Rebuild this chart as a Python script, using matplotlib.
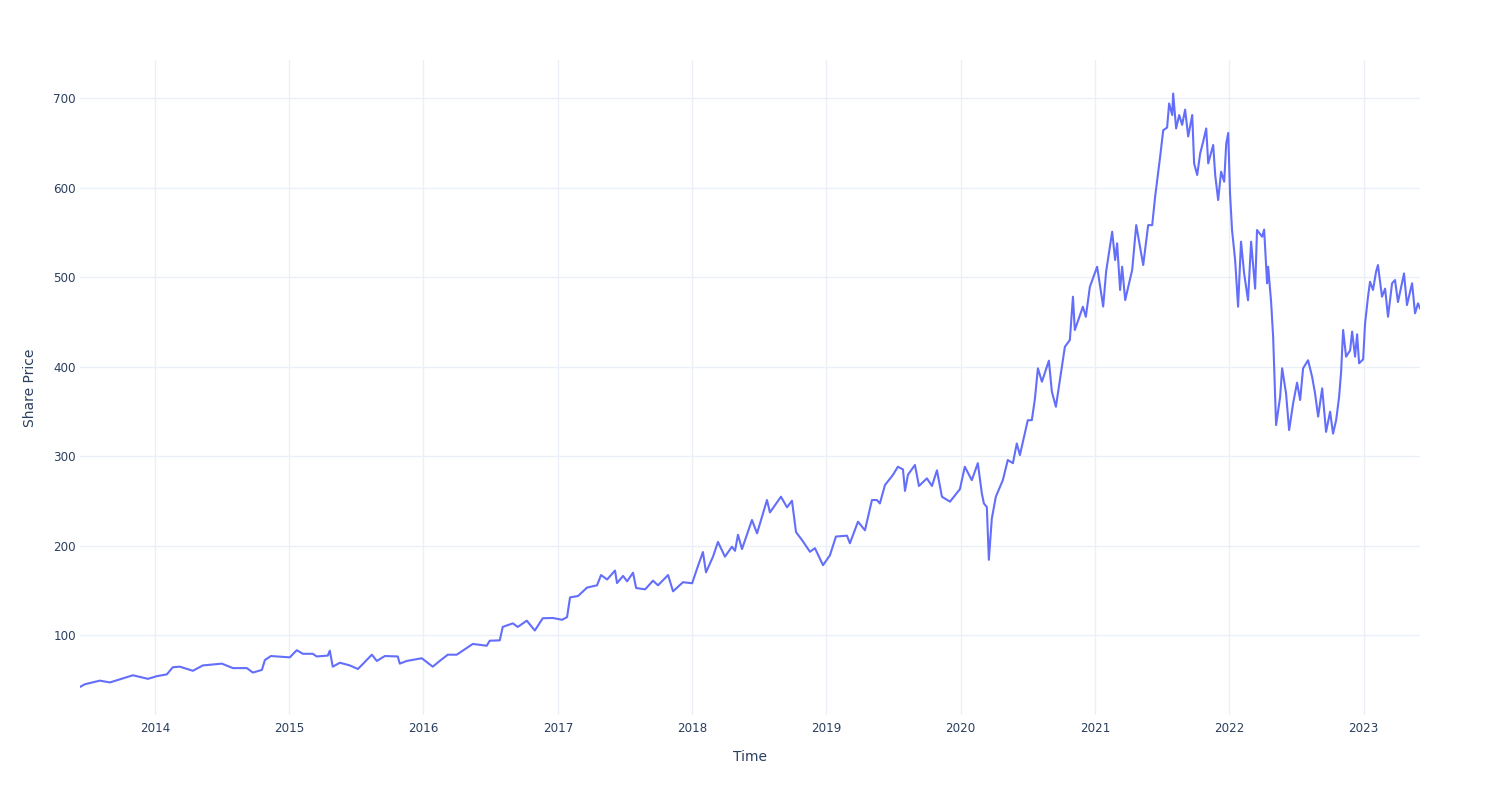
import numpy as np
import pandas as pd
import matplotlib
matplotlib.use('Agg')
import matplotlib.pyplot as plt
import matplotlib.dates as mdates

# time axis as fractional years, price
years = [
    2013.442, 2013.479, 2013.590, 2013.665, 2013.836, 2013.948, 2014.015, 2014.089, 2014.134, 2014.186,
    2014.283, 2014.357, 2014.499, 2014.581, 2014.685, 2014.730, 2014.797, 2014.819, 2014.864, 2015.005,
    2015.057, 2015.102, 2015.176, 2015.206, 2015.288, 2015.303, 2015.325, 2015.378, 2015.452, 2015.512,
    2015.549, 2015.616, 2015.653, 2015.713, 2015.809, 2015.824, 2015.876, 2015.988, 2016.070, 2016.122,
    2016.182, 2016.249, 2016.323, 2016.368, 2016.472, 2016.494, 2016.569, 2016.591, 2016.666, 2016.703,
    2016.770, 2016.830, 2016.889, 2016.964, 2017.031, 2017.068, 2017.090, 2017.150, 2017.217, 2017.291,
    2017.321, 2017.366, 2017.425, 2017.440, 2017.485, 2017.515, 2017.559, 2017.582, 2017.649, 2017.708,
    2017.745, 2017.820, 2017.857, 2017.931, 2017.999, 2018.036, 2018.080, 2018.103, 2018.155, 2018.192,
    2018.244, 2018.296, 2018.319, 2018.341, 2018.371, 2018.445, 2018.483, 2018.557, 2018.579, 2018.661,
    2018.706, 2018.743, 2018.773, 2018.818, 2018.877, 2018.914, 2018.974, 2019.026, 2019.071, 2019.153,
    2019.175, 2019.235, 2019.287, 2019.339, 2019.376, 2019.398, 2019.436, 2019.495, 2019.532, 2019.570,
    2019.585, 2019.607, 2019.659, 2019.689, 2019.748, 2019.786, 2019.823, 2019.860, 2019.920, 2019.994,
    2020.031, 2020.083, 2020.128, 2020.158, 2020.173, 2020.195, 2020.210, 2020.232, 2020.262, 2020.314,
    2020.351, 2020.389, 2020.418, 2020.441, 2020.500, 2020.530, 2020.553, 2020.575, 2020.605, 2020.657,
    2020.679, 2020.709, 2020.739, 2020.776, 2020.813, 2020.836, 2020.850, 2020.910, 2020.932, 2020.962,
    2021.014, 2021.059, 2021.081, 2021.126, 2021.148, 2021.163, 2021.185, 2021.200, 2021.223, 2021.275,
    2021.305, 2021.357, 2021.394, 2021.424, 2021.446, 2021.483, 2021.506, 2021.535, 2021.550, 2021.573,
    2021.580, 2021.602, 2021.625, 2021.647, 2021.669, 2021.692, 2021.722, 2021.736, 2021.759, 2021.781,
    2021.803, 2021.826, 2021.841, 2021.878, 2021.893, 2021.915, 2021.937, 2021.960, 2021.975, 2021.990,
    2022.004, 2022.019, 2022.042, 2022.064, 2022.086, 2022.109, 2022.138, 2022.161, 2022.191, 2022.205,
    2022.243, 2022.258, 2022.280, 2022.288, 2022.310, 2022.325, 2022.347, 2022.377, 2022.392, 2022.421,
    2022.444, 2022.474, 2022.503, 2022.526, 2022.548, 2022.585, 2022.615, 2022.637, 2022.660, 2022.690,
    2022.719, 2022.749, 2022.771, 2022.794, 2022.816, 2022.831, 2022.846, 2022.868, 2022.898, 2022.913,
    2022.935, 2022.950, 2022.965, 2022.995, 2023.010, 2023.032, 2023.047, 2023.069, 2023.092, 2023.106,
    2023.136, 2023.159, 2023.181, 2023.211, 2023.233, 2023.255, 2023.300, 2023.322, 2023.360, 2023.382,
    2023.404, 2023.419,
]

prices = [
    42, 45, 49, 47, 55, 51, 54, 56, 64, 64.6,
    60, 66, 68, 63, 63, 58, 61, 72, 76.5, 75,
    83, 79, 79, 76, 77, 82.5, 64.6, 69, 66, 62,
    67.6, 78, 71, 76.5, 76, 68, 71, 74, 64.6, 71,
    78, 78, 85.5, 90, 88, 93.6, 94, 109, 113, 109,
    116, 105, 118.7, 119, 117, 120, 142, 143.6, 153, 155.5,
    167, 162, 172, 158, 166, 160, 169.6, 152.5, 151, 160.7,
    155.5, 167, 148.8, 159, 157.8, 174, 192.7, 170, 187.5, 204,
    187.5, 198.7, 194, 212, 196, 228.5, 213.6, 250.8, 237, 254.5,
    242.7, 250, 215, 206, 193, 197, 178, 189, 210, 211,
    202.5, 226.6, 217, 250.8, 250.8, 247, 267.6, 278.8, 288, 285,
    261, 279, 290, 266.5, 275, 266.5, 284, 254.5, 249, 263,
    288, 273, 292, 258, 247, 243, 184, 230, 254.5, 273,
    295.5, 292, 314, 301, 340, 340, 364, 398, 383, 406.5,
    372, 355, 385, 422, 429.6, 478, 440.8, 466.8, 455.6, 489,
    511.5, 467, 506, 550.6, 519, 537.6, 485.5, 511.5, 474.3, 508,
    558, 513.4, 558, 558, 590, 634.4, 664, 667, 694, 681,
    705, 666, 681, 670, 687, 657, 681, 627, 614, 638,
    651, 666, 627, 647.5, 614, 586, 617.7, 606.5, 649, 661,
    593.5, 552.5, 519, 466.8, 539.5, 504, 474, 539.5, 487, 552.5,
    545, 553, 493, 511.5, 472, 433, 334.6, 366, 398, 370,
    329, 359, 382, 362.6, 398, 407, 388.6, 370, 344, 375.6,
    327, 349.5, 325, 340, 366, 394, 440.8, 411, 418, 439,
    411, 436, 403.6, 408, 448, 478, 494.7, 485.5, 506, 513.4,
    478, 487, 455.6, 493, 496.6, 472, 504, 468.7, 493, 459.4,
    470.6, 465,
]


def frac_to_date(t):
    yr = int(t)
    return pd.Timestamp(year=yr, month=1, day=1) + pd.Timedelta(days=(t - yr) * 365.25)


dates = [frac_to_date(t) for t in years]

plt.rcParams['font.family'] = ['DejaVu Sans']

text_color = '#2a3f5f'
grid_color = '#EBF0F8'

fig = plt.figure(figsize=(15, 8), dpi=100)
ax = fig.add_axes([80 / 1500, 1 - 715 / 800, 1340 / 1500, 655 / 800])

ax.plot(dates, prices, color='#636EFA', linewidth=1.5)

ax.set_xlim(dates[0], dates[-1])
ax.set_ylim(10.6, 742.5)

ax.xaxis.set_major_locator(mdates.YearLocator())
ax.xaxis.set_major_formatter(mdates.DateFormatter('%Y'))
ax.set_yticks([100, 200, 300, 400, 500, 600, 700])

ax.grid(True, color=grid_color, linewidth=1)
ax.set_axisbelow(True)
for s in ax.spines.values():
    s.set_visible(False)

ax.tick_params(axis='both', length=0, labelsize=8.6, labelcolor=text_color)
ax.tick_params(axis='x', pad=5)
ax.tick_params(axis='y', pad=3)

ax.set_xlabel('Time', fontsize=10, color=text_color, labelpad=11)
ax.set_ylabel('Share Price', fontsize=10, color=text_color, labelpad=12)

fig.savefig('out.png', dpi=100, facecolor='white')
